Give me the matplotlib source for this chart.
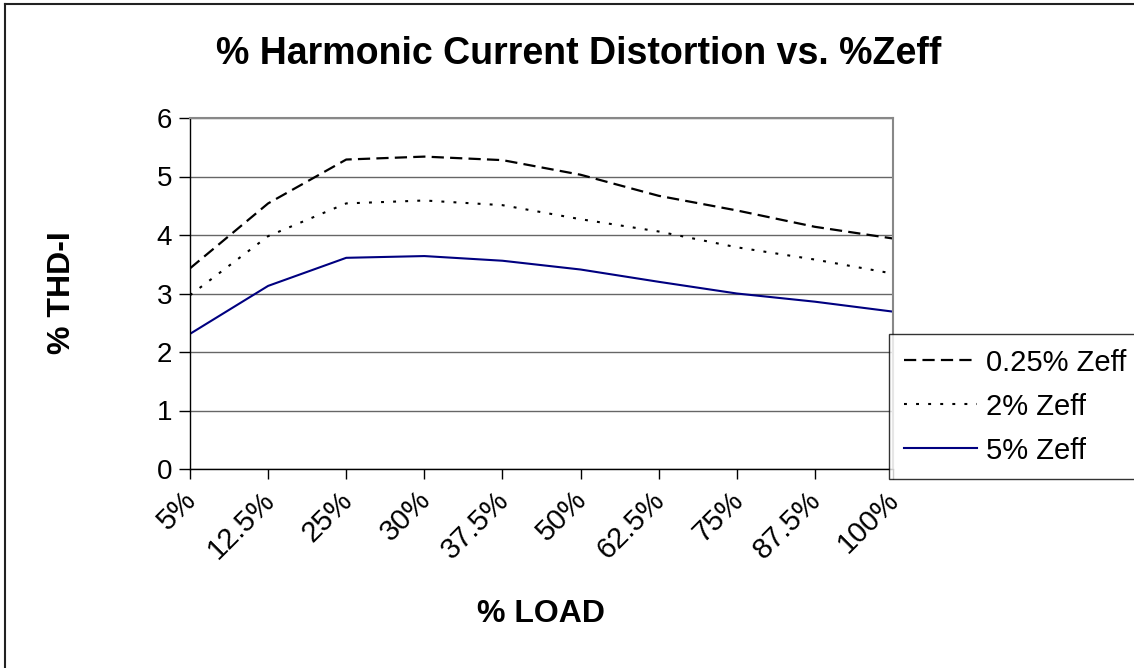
import matplotlib

matplotlib.use("Agg")
import matplotlib.pyplot as plt
from matplotlib import transforms

plt.rcParams["font.family"] = ["Liberation Sans", "DejaVu Sans"]

load_labels = ["5%", "12.5%", "25%", "30%", "37.5%", "50%", "62.5%", "75%", "87.5%", "100%"]
zeff_025 = [3.43, 4.54, 5.29, 5.34, 5.28, 5.03, 4.67, 4.42, 4.14, 3.94]
zeff_2 = [2.97, 3.98, 4.54, 4.59, 4.51, 4.27, 4.06, 3.79, 3.58, 3.34]
zeff_5 = [2.31, 3.13, 3.61, 3.64, 3.56, 3.41, 3.20, 3.00, 2.86, 2.69]
series_names = ["0.25% Zeff", "2% Zeff", "5% Zeff"]
y_ticks = [0, 1, 2, 3, 4, 5, 6]

W, H = 1134, 668
fig = plt.figure(figsize=(W / 100, H / 100), dpi=100)
ax = fig.add_axes([190 / W, 1 - 469 / H, (893 - 190) / W, (469 - 118) / H])

x = list(range(len(load_labels)))
ax.plot(x, zeff_025, color="black", lw=1.6, dashes=(5.5, 2.8), label=series_names[0])
ax.plot(x, zeff_2, color="black", lw=1.5, dashes=(1.4, 4.4), label=series_names[1])
ax.plot(x, zeff_5, color="#000080", lw=1.5, label=series_names[2])

ax.set_xlim(0, len(load_labels) - 1)
ax.set_ylim(0, 6)
ax.set_yticks(y_ticks)
ax.set_xticks(x)
ax.set_xticklabels(load_labels, rotation=45, ha="right", va="top", rotation_mode="anchor")
ax.tick_params(axis="both", labelsize=20, direction="out", width=1, color="black")
ax.tick_params(axis="x", labelsize=21)
ax.tick_params(axis="y", length=8, pad=5)
ax.tick_params(axis="x", length=7, pad=5)
shift = transforms.ScaledTranslation(-8 / 100, 0, fig.dpi_scale_trans)
for lbl in ax.get_xticklabels():
    lbl.set_transform(lbl.get_transform() + shift)

ax.grid(axis="y", color="#666666", lw=1)
ax.set_axisbelow(True)
for side in ("top", "right"):
    ax.spines[side].set_color("#888888")
    ax.spines[side].set_linewidth(1.5)
for side in ("left", "bottom"):
    ax.spines[side].set_color("black")
    ax.spines[side].set_linewidth(1)

fig.text(579 / W, 1 - 54 / H, "% Harmonic Current Distortion vs. %Zeff",
         ha="center", va="center", fontsize=27, fontweight="bold")
fig.text(62 / W, 1 - 293 / H, "% THD-I", ha="center", va="center",
         rotation=90, fontsize=23, fontweight="bold")
fig.text(541 / W, 1 - 614 / H, "% LOAD", ha="center", va="center",
         fontsize=23, fontweight="bold")

leg = fig.legend(loc="upper left", bbox_to_anchor=(889 / W, 1 - 334 / H),
                 fontsize=21, frameon=True, fancybox=False, borderaxespad=0,
                 handlelength=2.5, handletextpad=0.32, labelspacing=0.55,
                 borderpad=0.5)
leg.get_frame().set_edgecolor("black")
leg.get_frame().set_linewidth(1)

# outer chart border: only top and left edges show in the source image
fig.add_artist(plt.Line2D([5 / W, 5 / W], [0, 1 - 4 / H], transform=fig.transFigure,
                          color="#222222", lw=1.5))
fig.add_artist(plt.Line2D([5 / W, 1], [1 - 4 / H, 1 - 4 / H], transform=fig.transFigure,
                          color="#222222", lw=1.5))

fig.savefig("out.png", dpi=100)
